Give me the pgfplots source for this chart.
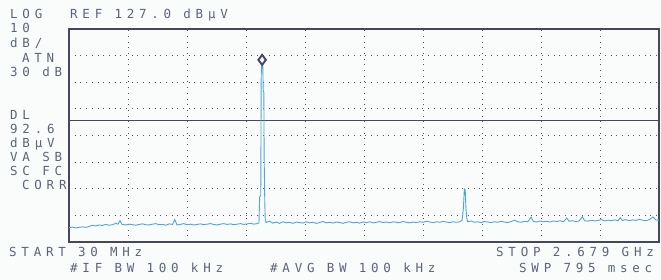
\documentclass[border=0pt]{standalone}
\usepackage{fontspec}
\usepackage{pgfplots}
\pgfplotsset{compat=1.18}
\newfontfamily\saf[LetterSpace=38]{DejaVu Sans Mono}
\definecolor{bg}{RGB}{249,252,251}
\definecolor{frame}{RGB}{70,70,96}
\definecolor{txt}{RGB}{92,100,120}
\definecolor{trace}{RGB}{78,165,222}
\definecolor{griddot}{RGB}{78,80,96}
\begin{document}
\begin{tikzpicture}
\path[use as bounding box, fill=bg] (0pt,0pt) rectangle (661pt,280pt);
\begin{axis}[at={(69pt,38pt)}, anchor=south west, scale only axis,
  width=590pt, height=213pt,
  xmin=30, xmax=2679, ymin=47, ymax=127,
  xtick={294.9,559.8,824.7,1089.6,1354.5,1619.4,1884.3,2149.2,2414.1},
  ytick={57,67,77,87,97,107,117},
  xticklabels={}, yticklabels={},
  major tick length=0pt,
  grid=major,
  major grid style={griddot, line width=0.9pt, dash pattern=on 0.9pt off 4.8pt},
  axis line style={frame, line width=1.4pt},
  axis background/.style={fill=bg}]
\addplot[frame, line width=1.4pt] coordinates {(30,92.6) (2679,92.6)};
\addplot[trace, line width=0.9pt] coordinates {
(30,52.4)(45,52.6)(60,52.3)(75,52.5)(90,52.7)(105,52.5)(120,52.8)(135,53.3)(150,53.0)(165,53.4)
(180,53.2)(195,53.6)(210,53.3)(225,53.5)(240,54.0)(250,53.7)(259,55.0)(268,53.6)(285,53.4)(300,53.7)
(315,53.5)(330,53.3)(345,53.6)(360,53.8)(375,53.5)(390,53.4)(405,53.7)(420,53.9)(435,53.5)(450,53.6)
(465,53.3)(480,53.8)(495,53.6)(505,55.4)(515,53.4)(530,53.6)(545,53.9)(560,53.5)(575,53.7)(590,53.4)
(605,53.6)(620,53.8)(635,53.5)(650,53.7)(665,53.9)(680,53.6)(695,53.4)(710,53.7)(725,53.9)(740,53.6)
(755,53.8)(770,53.5)(785,53.7)(800,53.9)(815,53.6)(830,53.8)(845,54.0)(860,53.7)(875,53.9)(883,54.2)
(886,63.9)(891,64.5)(893,110)(897,115.4)(900,113.5)(902,104)(905,103)(906,80)(909,62)(911,55.5)
(915,54.3)(930,54.8)(945,54.1)(960,54.5)(975,54.0)(990,54.6)(1005,54.2)(1020,54.4)(1035,54.0)(1050,54.5)
(1065,54.3)(1080,54.1)(1095,54.6)(1110,54.2)(1125,54.4)(1140,54.0)(1155,54.3)(1170,54.7)(1185,54.2)(1200,54.4)
(1215,54.1)(1230,54.5)(1245,54.3)(1260,54.0)(1275,54.4)(1290,54.6)(1305,54.2)(1320,54.4)(1335,54.1)(1350,54.5)
(1365,54.3)(1380,54.6)(1395,54.2)(1410,54.4)(1425,54.7)(1440,54.3)(1455,54.5)(1470,54.2)(1485,54.6)(1500,54.4)
(1515,54.3)(1530,54.7)(1545,54.4)(1560,54.2)(1575,54.5)(1590,54.3)(1605,54.6)(1620,54.4)(1635,54.8)(1650,54.5)
(1665,54.3)(1680,54.6)(1695,54.4)(1710,54.7)(1725,54.5)(1740,54.3)(1755,54.6)(1770,54.4)(1785,54.6)(1795,55.2)
(1801,60)(1805,66.9)(1809,66.5)(1812,59.8)(1816,56)(1820,54.6)(1835,54.9)(1850,54.4)(1865,54.6)(1880,54.3)
(1895,54.7)(1910,54.5)(1925,54.3)(1940,54.6)(1955,54.4)(1970,54.8)(1985,54.5)(2000,54.3)(2015,54.7)(2030,55.2)
(2045,54.6)(2060,54.4)(2075,54.8)(2090,54.6)(2105,56.3)(2115,54.7)(2130,54.5)(2145,54.9)(2160,54.6)(2175,54.8)
(2190,54.5)(2205,54.9)(2220,54.7)(2235,55.0)(2250,54.6)(2265,56.0)(2275,54.8)(2290,55.0)(2305,54.7)(2320,54.9)
(2335,56.5)(2345,55.0)(2360,54.8)(2375,55.2)(2390,54.9)(2405,55.1)(2420,55.4)(2435,54.9)(2450,55.2)(2465,55.0)
(2480,55.3)(2495,55.0)(2505,56.1)(2515,55.1)(2530,55.4)(2545,55.0)(2560,55.3)(2575,55.1)(2590,55.5)(2605,55.2)
(2620,55.0)(2635,55.4)(2652,56.4)(2665,55.3)(2679,55.1)};
\addplot[only marks, mark=diamond*, mark size=5pt,
  mark options={draw=frame, fill=bg, line width=1.9pt}] coordinates {(897,115.4)};
\end{axis}
\begin{scope}[every node/.style={anchor=base west, inner sep=0pt, text=txt, font=\saf\fontsize{12.5}{12.5}\selectfont}]
\node at (10pt,261pt) {LOG};
\node at (70pt,261pt) {REF 127.0 dBµV};
\node at (10pt,247pt) {10};
\node at (10pt,232pt) {dB/};
\node at (22pt,217pt) {ATN};
\node at (10pt,203pt) {30 dB};
\node at (10pt,160pt) {DL};
\node at (10pt,146pt) {92.6};
\node at (10pt,132pt) {dBµV};
\node at (10pt,118pt) {VA SB};
\node at (10pt,104pt) {SC FC};
\node at (22pt,90pt) {CORR};
\node at (9pt,23pt) {START 30 MHz};
\node at (496pt,23pt) {STOP 2.679 GHz};
\node at (70pt,7pt) {\#IF BW 100 kHz};
\node at (270pt,7pt) {\#AVG BW 100 kHz};
\node at (519pt,7pt) {SWP 795 msec};
\end{scope}
\end{tikzpicture}
\end{document}
